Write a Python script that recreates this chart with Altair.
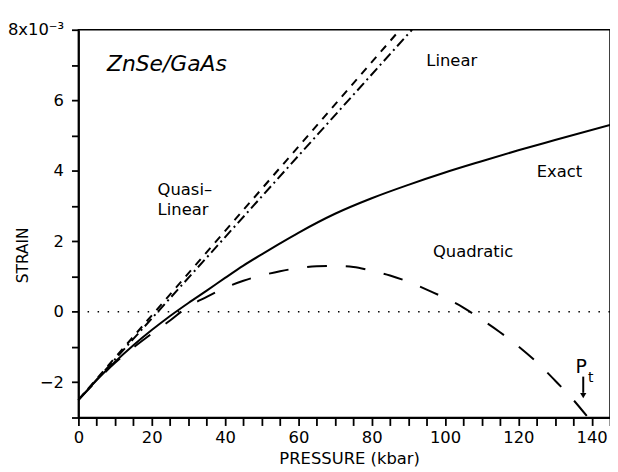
import altair as alt
import pandas as pd

# ---- data (pressure in kbar, strain in 1e-3) ----
exact_p = [0, 5, 10, 15, 20, 25, 30, 35, 40, 45, 50, 55, 60, 70, 80, 90, 100, 110, 120, 130, 145]
exact_s = [-2.5, -1.94, -1.42, -0.95, -0.52, -0.12, 0.25, 0.60, 0.96, 1.31, 1.63, 1.94, 2.24,
           2.78, 3.22, 3.60, 3.95, 4.27, 4.58, 4.87, 5.3]

quad_p = [0, 10, 20, 25, 30, 35, 40, 45, 50, 55, 60, 65, 70, 75, 80, 85, 90, 95,
          100, 105, 110, 115, 120, 125, 130, 135, 139]
quad_s = [-2.5, -1.45, -0.62, -0.25, 0.15, 0.42, 0.68, 0.88, 1.03, 1.15, 1.24, 1.29,
          1.30, 1.27, 1.16, 1.03, 0.85, 0.63, 0.39, 0.12, -0.22, -0.58, -0.98, -1.43,
          -1.95, -2.5, -3.0]

lin_p = [0, 87.7]
lin_s = [-2.5, 8.0]

qlin_p = [0, 91.0]
qlin_s = [-2.5, 8.0]

zero_p = [2.5, 145]
zero_s = [0, 0]

x_ticks = list(range(0, 146, 5))
y_ticks = [v / 2 for v in range(-6, 17)]

label_text = ["Quasi\u2013", "Linear", "Linear", "Exact", "Quadratic"]
label_p = [21.6, 21.6, 94.9, 125.0, 96.7]
label_s = [3.30, 2.74, 6.96, 3.81, 1.56]

title_text = ["ZnSe/GaAs"]
title_p = [7.8]
title_s = [6.83]

pt_p = [135.6]
pt_s = [-1.74]
pt_sub_p = [139.0]
pt_sub_s = [-1.98]
arrow_p = [137.7]
arrow_top = [-1.84]
arrow_bot = [-2.30]
arrow_head = [-2.38]

FONT = "DejaVu Sans"

xs = alt.Scale(domain=[0, 145], nice=False, zero=False)
ys = alt.Scale(domain=[-3, 8], nice=False, zero=False)

x_enc = alt.X(
    "p:Q", scale=xs, title="PRESSURE (kbar)",
    axis=alt.Axis(values=x_ticks, tickCount=200, format="d",
                  labelExpr="datum.value % 20 == 0 ? datum.label : ''",
                  tickSize=8, labelPadding=4, labelFontSize=16.5, titleFontSize=16.5,
                  titleFontWeight="normal", titlePadding=5, domainWidth=2, tickWidth=1.8,
                  labelFlush=False, labelOverlap=False, titleX=273),
)
y_enc = alt.Y(
    "s:Q", scale=ys, title="STRAIN",
    axis=alt.Axis(values=y_ticks, tickCount=200, format="d",
                  labelExpr="datum.value == 8 ? '8x10\u207b\u00b3' : (datum.value % 2 == 0 ? datum.label : '')",
                  tickSize=7, labelPadding=8, labelFontSize=16.5, titleFontSize=15.5,
                  titleFontWeight="normal", domainWidth=2, tickWidth=1.8, labelFlush=False,
                  labelOverlap=False,
                  titleX=-48, titleY=227, titleAlign="center", titleAngle=270),
)


def df(px, sy):
    return pd.DataFrame({"p": px, "s": sy})


exact = alt.Chart(df(exact_p, exact_s)).mark_line(
    color="black", strokeWidth=2, interpolate="monotone").encode(x=x_enc, y=y_enc)
quad = alt.Chart(df(quad_p, quad_s)).mark_line(
    color="black", strokeWidth=2, strokeDash=[20, 19], interpolate="monotone").encode(x="p:Q", y="s:Q")
lin = alt.Chart(df(lin_p, lin_s)).mark_line(color="black", strokeWidth=2, strokeDash=[8, 7]).encode(x="p:Q", y="s:Q")
qlin = alt.Chart(df(qlin_p, qlin_s)).mark_line(color="black", strokeWidth=2, strokeDash=[10, 4, 2, 4]).encode(x="p:Q", y="s:Q")
zero = alt.Chart(df(zero_p, zero_s)).mark_line(color="black", strokeWidth=1.5, strokeDash=[1.5, 8.6]).encode(x="p:Q", y="s:Q")

labels = alt.Chart(pd.DataFrame({"p": label_p, "s": label_s, "t": label_text})).mark_text(
    align="left", baseline="alphabetic", font=FONT, fontSize=16.5, color="black"
).encode(x="p:Q", y="s:Q", text="t:N")

title = alt.Chart(pd.DataFrame({"p": title_p, "s": title_s, "t": title_text})).mark_text(
    align="left", baseline="alphabetic", font=FONT, fontSize=22, fontStyle="italic", color="black"
).encode(x="p:Q", y="s:Q", text="t:N")

pt = alt.Chart(pd.DataFrame({"p": pt_p, "s": pt_s, "t": ["P"]})).mark_text(
    align="left", baseline="alphabetic", font=FONT, fontSize=19, color="black"
).encode(x="p:Q", y="s:Q", text="t:N")
pt_sub = alt.Chart(pd.DataFrame({"p": pt_sub_p, "s": pt_sub_s, "t": ["t"]})).mark_text(
    align="left", baseline="alphabetic", font=FONT, fontSize=14, color="black"
).encode(x="p:Q", y="s:Q", text="t:N")

arrow = alt.Chart(pd.DataFrame({"p": arrow_p, "s": arrow_top, "s2": arrow_bot})).mark_rule(
    color="black", strokeWidth=2
).encode(x="p:Q", y="s:Q", y2="s2:Q")
head = alt.Chart(pd.DataFrame({"p": arrow_p, "s": arrow_head})).mark_point(
    shape="triangle-down", filled=True, size=40, color="black", opacity=1
).encode(x="p:Q", y="s:Q")

chart = alt.layer(exact, quad, lin, qlin, zero, labels, title, pt, pt_sub, arrow, head).properties(
    width=536, height=391,
    autosize=alt.AutoSizeParams(type="none"),
    padding={"left": 71, "top": 20, "right": 0, "bottom": 50},
    background="white",
).configure_view(stroke="black", strokeWidth=1.5).configure_axis(
    grid=False, domainColor="black", tickColor="black", labelColor="black", titleColor="black",
    labelFont=FONT, titleFont=FONT,
)

chart.save("out.html", embed_options={"renderer": "svg", "actions": False})
